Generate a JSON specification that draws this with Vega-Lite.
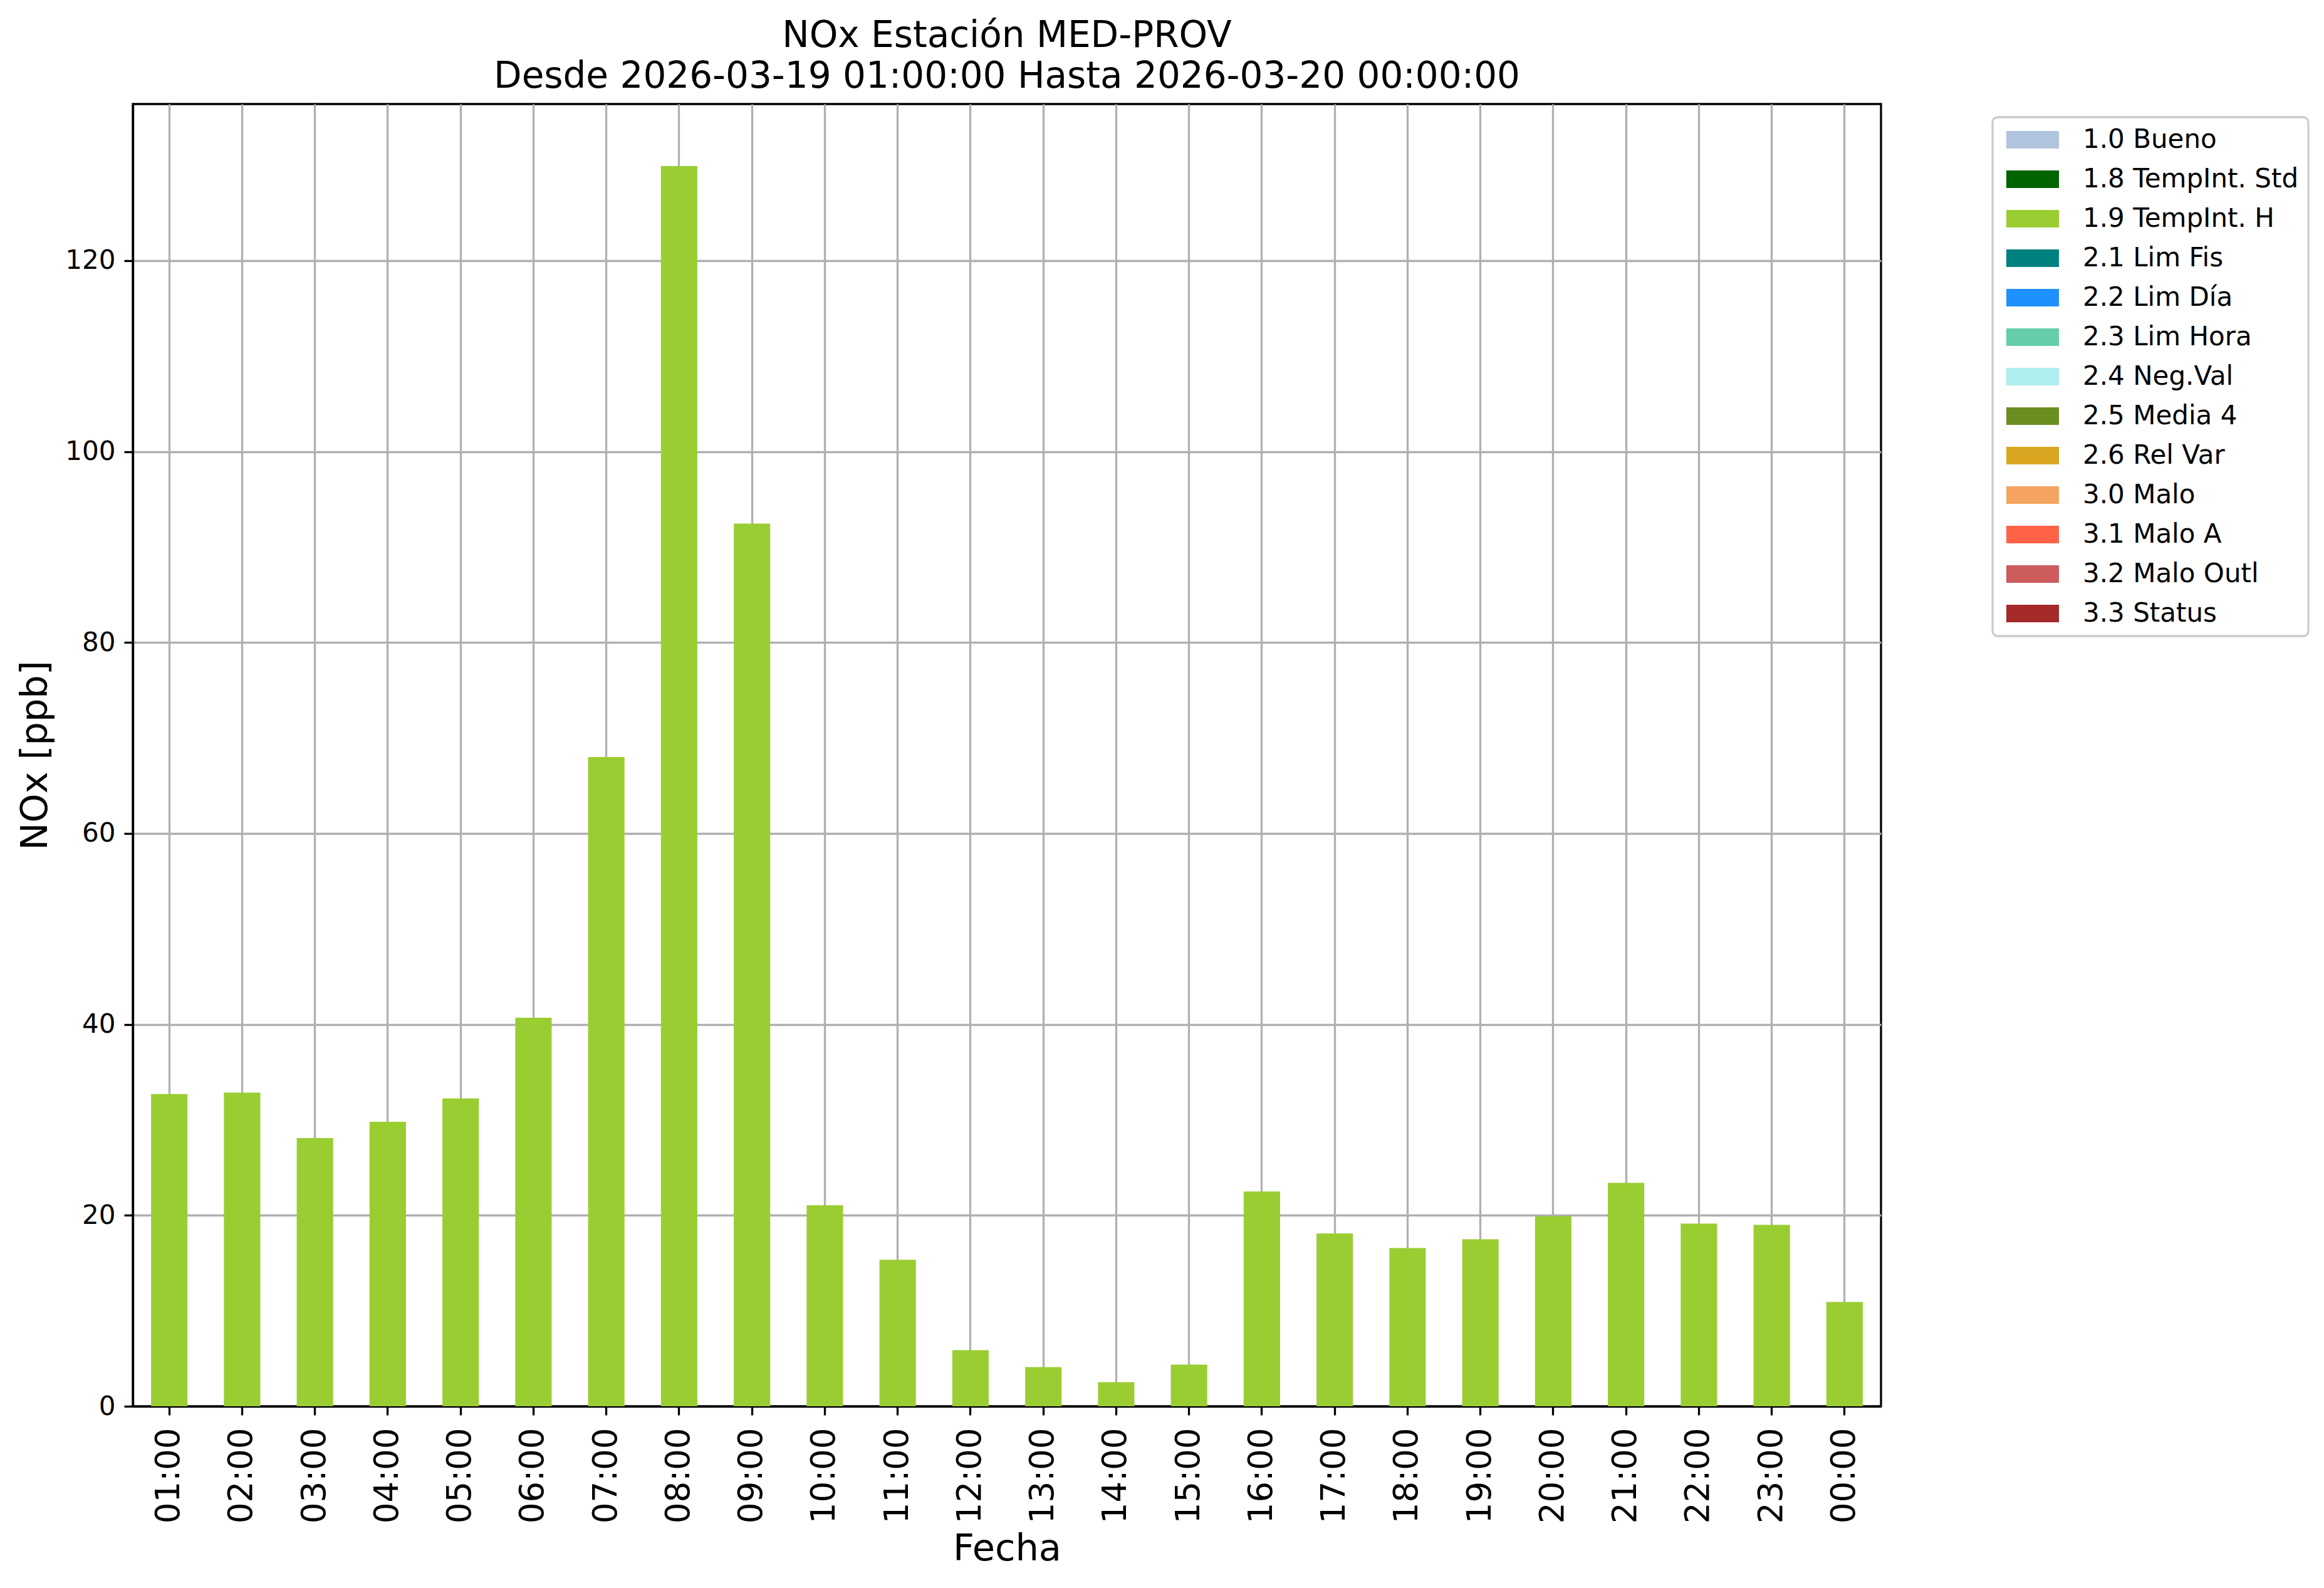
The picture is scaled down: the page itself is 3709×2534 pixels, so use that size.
{
  "$schema": "https://vega.github.io/schema/vega-lite/v6.json",
  "autosize": {"type": "none"},
  "width": 2790,
  "height": 2078,
  "padding": {"left": 212, "top": 166, "right": 707, "bottom": 290},
  "background": "white",
  "title": {
    "text": ["NOx Estación MED-PROV", "Desde 2026-03-19 01:00:00 Hasta 2026-03-20 00:00:00"],
    "anchor": "middle",
    "frame": "group",
    "font": "DejaVu Sans",
    "fontSize": 58,
    "fontWeight": "normal",
    "color": "black",
    "baseline": "bottom",
    "lineHeight": 65,
    "offset": -44
  },
  "data": {
    "values": [
      {"hora": "01:00", "nox": 32.7, "estado": "1.9 TempInt. H"},
      {"hora": "02:00", "nox": 32.85, "estado": "1.9 TempInt. H"},
      {"hora": "03:00", "nox": 28.1, "estado": "1.9 TempInt. H"},
      {"hora": "04:00", "nox": 29.8, "estado": "1.9 TempInt. H"},
      {"hora": "05:00", "nox": 32.25, "estado": "1.9 TempInt. H"},
      {"hora": "06:00", "nox": 40.7, "estado": "1.9 TempInt. H"},
      {"hora": "07:00", "nox": 68.0, "estado": "1.9 TempInt. H"},
      {"hora": "08:00", "nox": 129.9, "estado": "1.9 TempInt. H"},
      {"hora": "09:00", "nox": 92.45, "estado": "1.9 TempInt. H"},
      {"hora": "10:00", "nox": 21.05, "estado": "1.9 TempInt. H"},
      {"hora": "11:00", "nox": 15.35, "estado": "1.9 TempInt. H"},
      {"hora": "12:00", "nox": 5.88, "estado": "1.9 TempInt. H"},
      {"hora": "13:00", "nox": 4.1, "estado": "1.9 TempInt. H"},
      {"hora": "14:00", "nox": 2.52, "estado": "1.9 TempInt. H"},
      {"hora": "15:00", "nox": 4.36, "estado": "1.9 TempInt. H"},
      {"hora": "16:00", "nox": 22.5, "estado": "1.9 TempInt. H"},
      {"hora": "17:00", "nox": 18.1, "estado": "1.9 TempInt. H"},
      {"hora": "18:00", "nox": 16.58, "estado": "1.9 TempInt. H"},
      {"hora": "19:00", "nox": 17.5, "estado": "1.9 TempInt. H"},
      {"hora": "20:00", "nox": 19.9, "estado": "1.9 TempInt. H"},
      {"hora": "21:00", "nox": 23.4, "estado": "1.9 TempInt. H"},
      {"hora": "22:00", "nox": 19.14, "estado": "1.9 TempInt. H"},
      {"hora": "23:00", "nox": 19.0, "estado": "1.9 TempInt. H"},
      {"hora": "00:00", "nox": 10.93, "estado": "1.9 TempInt. H"}
    ]
  },
  "mark": {"type": "bar"},
  "encoding": {
    "x": {
      "field": "hora",
      "type": "ordinal",
      "sort": null,
      "scale": {"paddingInner": 0.5, "paddingOuter": 0.25},
      "axis": {
        "title": "Fecha",
        "labelAngle": -90,
        "labelAlign": "right",
        "labelBaseline": "middle",
        "labelFontSize": 53,
        "labelPadding": 20,
        "titlePadding": 12,
        "bandPosition": 0.5
      }
    },
    "y": {
      "field": "nox",
      "type": "quantitative",
      "scale": {"domain": [0, 136.4], "nice": false, "zero": true},
      "axis": {
        "title": "NOx [ppb]",
        "values": [0, 20, 40, 60, 80, 100, 120],
        "format": "d",
        "labelFontSize": 42,
        "labelPadding": 14,
        "titlePadding": 17
      }
    },
    "color": {
      "field": "estado",
      "type": "nominal",
      "scale": {
        "domain": ["1.0 Bueno", "1.8 TempInt. Std", "1.9 TempInt. H", "2.1 Lim Fis", "2.2 Lim Día", "2.3 Lim Hora", "2.4 Neg.Val", "2.5 Media 4", "2.6 Rel Var", "3.0 Malo", "3.1 Malo A", "3.2 Malo Outl", "3.3 Status"],
        "range": ["#B0C4DE", "#006400", "#9ACD32", "#008080", "#1E90FF", "#66CDAA", "#AFEEEE", "#6B8E23", "#DAA520", "#F4A460", "#FF6347", "#CD5C5C", "#A52A2A"]
      },
      "legend": {
        "title": null,
        "orient": "none",
        "legendX": 2968,
        "legendY": 21,
        "symbolType": "M-1,-1H5V1H-1Z",
        "symbolSize": 784,
        "symbolStrokeWidth": 0,
        "symbolOpacity": 1,
        "labelOffset": 87,
        "labelFontSize": 42,
        "labelFont": "DejaVu Sans",
        "labelColor": "black",
        "labelLimit": 1000,
        "rowPadding": 21,
        "padding": 15,
        "strokeColor": "#cccccc",
        "cornerRadius": 8,
        "fillColor": "white",
        "encode": {"legend": {"update": {"strokeWidth": {"value": 3.3}}}}
      }
    }
  },
  "config": {
    "font": "DejaVu Sans",
    "view": {"stroke": "black", "strokeWidth": 3.3},
    "axis": {
      "zindex": 1,
      "grid": true,
      "gridColor": "#b0b0b0",
      "gridWidth": 3.3,
      "gridOpacity": 1,
      "domain": true,
      "domainColor": "black",
      "domainWidth": 3.3,
      "ticks": true,
      "tickColor": "black",
      "tickWidth": 3.3,
      "tickSize": 14,
      "labelColor": "black",
      "labelFont": "DejaVu Sans",
      "titleFont": "DejaVu Sans",
      "titleFontSize": 59,
      "titleFontWeight": "normal",
      "titleColor": "black",
      "labelOverlap": false,
      "labelFlush": false
    }
  }
}
